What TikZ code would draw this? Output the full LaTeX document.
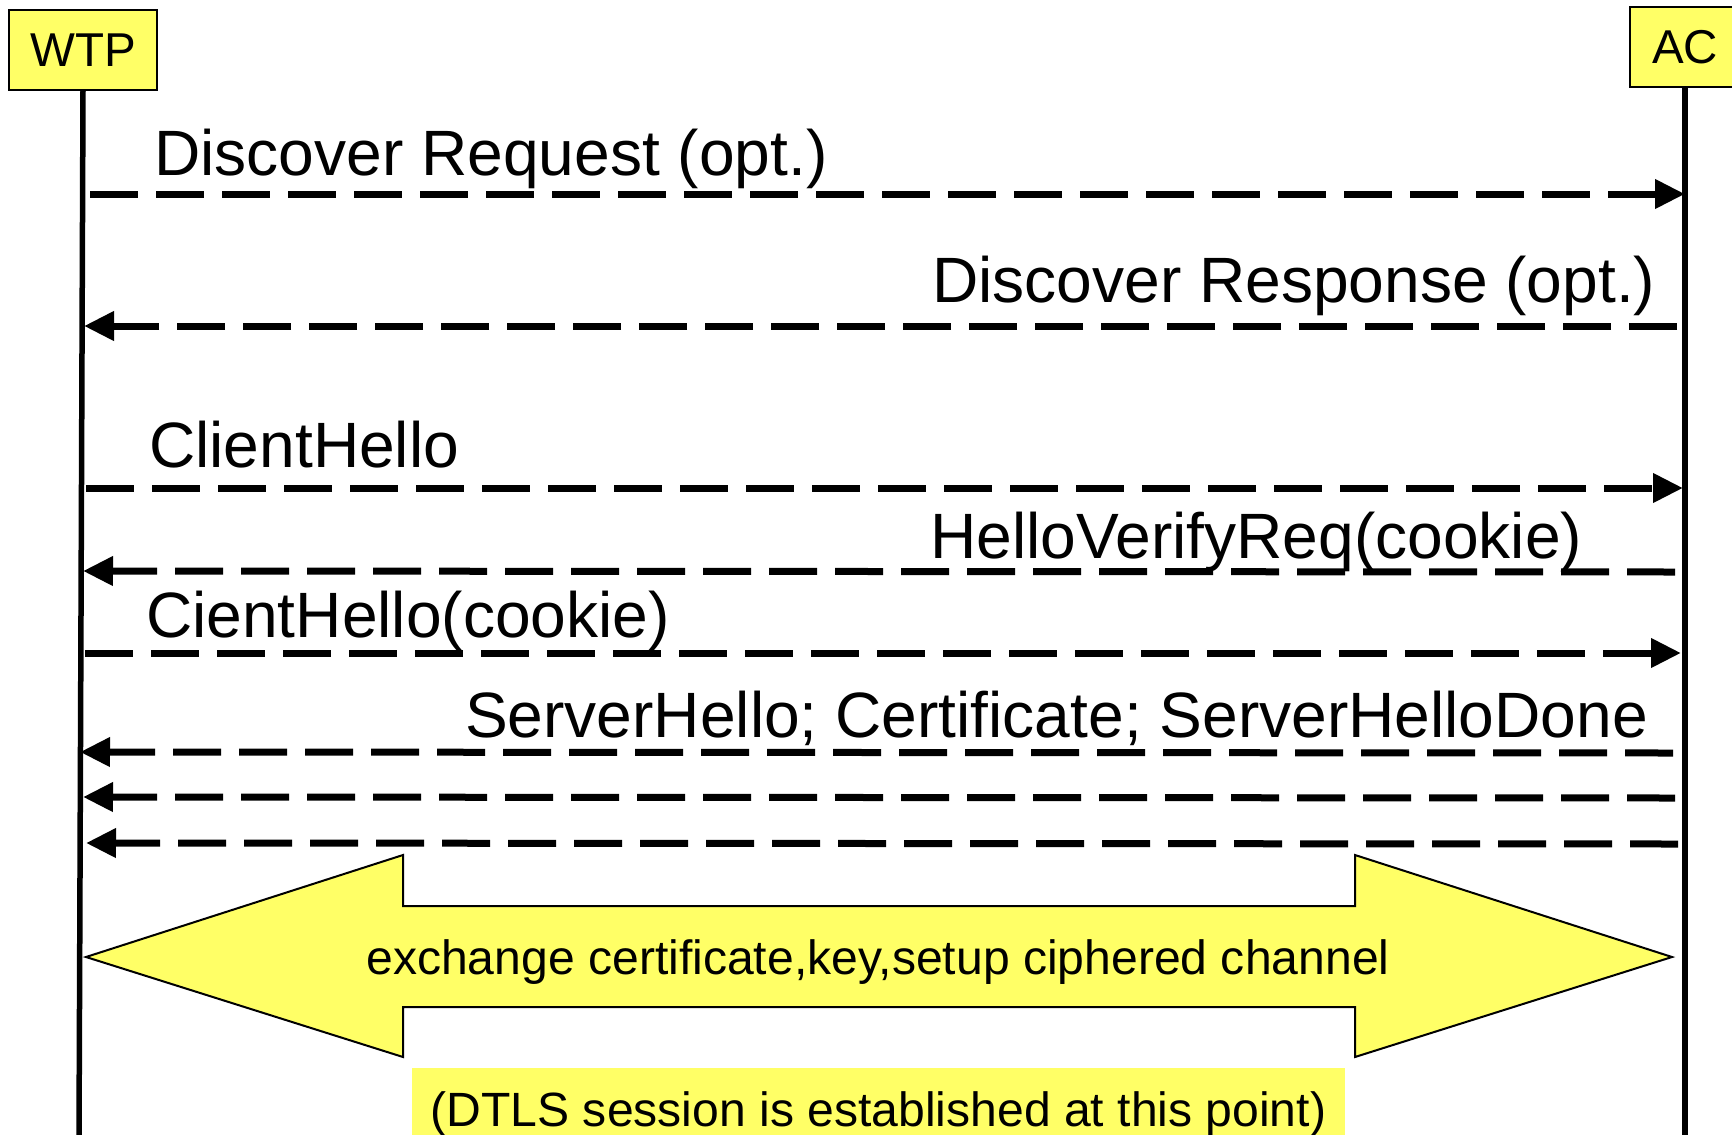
\documentclass[tikz,border=0pt]{standalone}
\usepackage{fontspec}
\setmainfont{Liberation Sans}
\usetikzlibrary{arrows.meta}
\definecolor{hl}{RGB}{255,255,102}
\begin{document}
\begin{tikzpicture}[x=1pt,y=-1pt,
  msg/.style={line width=7pt, dash pattern=on 48pt off 18pt, -{Triangle[length=30pt,width=28pt]}},
  life/.style={line width=5.5pt},
  actor/.style={draw, line width=2pt, fill=hl, inner sep=0pt, minimum height=80pt,
    font=\fontsize{47.5}{52}\selectfont},
  lbl/.style={font=\fontsize{64.1}{70}\selectfont, inner sep=0pt, anchor=base west},
  small/.style={font=\fontsize{48.1}{52}\selectfont, inner sep=0pt, anchor=base},
  bigarrow/.style={fill=hl, draw=black, line width=2pt, line join=miter}
]
\useasboundingbox (0,0) rectangle (1732,1135);
\clip (0,0) rectangle (1732,1135);
\fill[white] (0,0) rectangle (1732,1135);

% actors
\node[actor, minimum width=148pt] (wtp) at (83,50) {WTP};
\node[actor, minimum width=110pt] (ac) at (1685,47) {AC};

% lifelines
\coordinate (wbot) at (79,1140);
\coordinate (abot) at (1685,1140);
\draw[life] (wtp.south) -- (wbot);
\draw[life] (ac.south) -- (abot);

% message end points
\coordinate (s1) at (90,194);   \coordinate (e1) at (1685,194);
\coordinate (s2) at (1677,326); \coordinate (e2) at (84,326);
\coordinate (s3) at (86,488);   \coordinate (e3) at (1683,488);
\coordinate (s4) at (1675,572); \coordinate (e4) at (83,571);
\coordinate (s5) at (85,653);   \coordinate (e5) at (1681,653);
\coordinate (s6) at (1673,753); \coordinate (e6) at (80,752);
\coordinate (s7) at (1675,798); \coordinate (e7) at (83,797);
\coordinate (s8) at (1678,844); \coordinate (e8) at (86,843);

\draw[msg] (s1) -- (e1);
\draw[msg] (s2) -- (e2);
\draw[msg] (s3) -- (e3);
\draw[msg] (s4) -- (e4);
\draw[msg] (s5) -- (e5);
\draw[msg] (s6) -- (e6);
\draw[msg] (s7) -- (e7);
\draw[msg] (s8) -- (e8);

% labels
\node[lbl] (l1) at (154,175) {Discover Request (opt.)};
\node[lbl] (l2) at (932,302) {Discover Response (opt.)};
\node[lbl] (l3) at (149,467) {ClientHello};
\node[lbl] (l4) at (930,558) {HelloVerifyReq(cookie)};
\node[lbl] (l5) at (146,637) {CientHello(cookie)};
\node[lbl] (l6) at (465,737) {ServerHello; Certificate; ServerHelloDone};

% double arrow
\draw[bigarrow] (86,957) -- (403,855) -- (403,906) -- (1355,906) -- (1355,855)
  -- (1672,957) -- (1355,1057) -- (1355,1007) -- (403,1007) -- (403,1057) -- cycle;
\node[small] (xchg) at (878,974) {exchange certificate,key,setup ciphered channel};

% DTLS note
\fill[hl] (412,1068) rectangle (1345,1140);
\node[small] (dtls) at (878.5,1126) {(DTLS session is established at this point)};
\end{tikzpicture}
\end{document}
